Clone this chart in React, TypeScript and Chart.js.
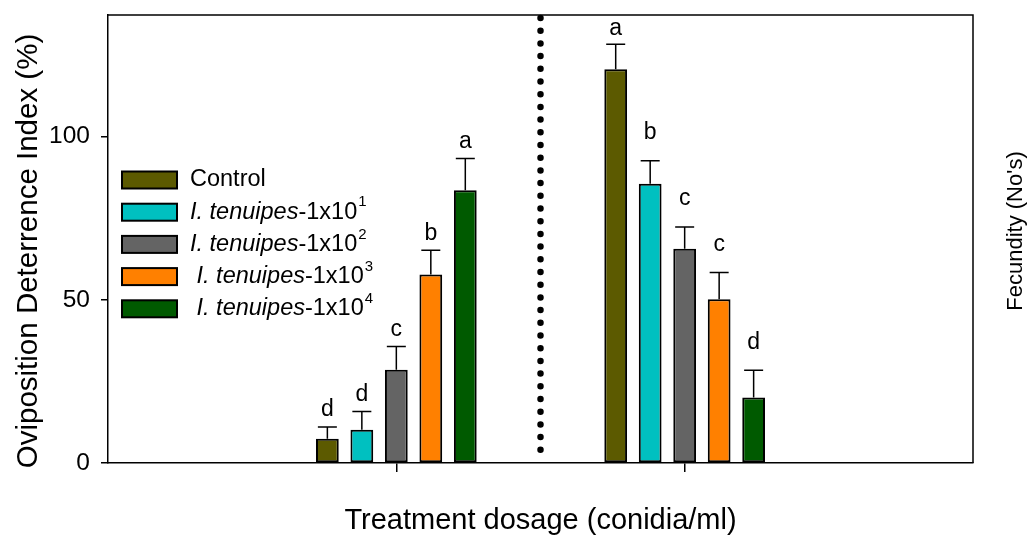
import React, { useEffect, useRef } from "react";
import { Chart, registerables } from "chart.js";

Chart.register(...registerables);

// ---------- data ----------
const categories = ["", "Group 1", "Group 2", ""];
const seriesLabels = [
  "Control",
  "I. tenuipes-1x10^1",
  "I. tenuipes-1x10^2",
  " I. tenuipes-1x10^3",
  " I. tenuipes-1x10^4",
];
const seriesColors = ["#5c5a00", "#00c0c0", "#646464", "#ff8000", "#005a00"];

const controlMeans = [7.4, 120.7];
const tenuipes1Means = [10.2, 85.6];
const tenuipes2Means = [28.6, 65.7];
const tenuipes3Means = [57.8, 50.2];
const tenuipes4Means = [83.6, 20.1];

const controlErr = [3.6, 7.6];
const tenuipes1Err = [5.6, 7.0];
const tenuipes2Err = [7.1, 6.6];
const tenuipes3Err = [7.4, 8.2];
const tenuipes4Err = [9.7, 8.3];

const controlLetters = ["d", "a"];
const tenuipes1Letters = ["d", "b"];
const tenuipes2Letters = ["c", "c"];
const tenuipes3Letters = ["b", "c"];
const tenuipes4Letters = ["a", "d"];

const yTickValues = [0, 50, 100];
const yMin = 0;
const yMax = 137.3;

const yTitle = "Oviposition Deterrence Index (%)";
const y2Title = "Fecundity (No's)";
const xTitle = "Treatment dosage (conidia/ml)";

const allMeans = [controlMeans, tenuipes1Means, tenuipes2Means, tenuipes3Means, tenuipes4Means];
const allErr = [controlErr, tenuipes1Err, tenuipes2Err, tenuipes3Err, tenuipes4Err];
const allLetters = [controlLetters, tenuipes1Letters, tenuipes2Letters, tenuipes3Letters, tenuipes4Letters];

const FONT = "Arial, 'Liberation Sans', sans-serif";

const overlayPlugin = {
  id: "overlay",
  afterDatasetsDraw(chart: any) {
    const { ctx, chartArea: ca, scales } = chart;
    const x = scales.x;
    const y = scales.y;
    ctx.save();

    // top and right frame
    ctx.strokeStyle = "#000";
    ctx.lineWidth = 1.5;
    ctx.beginPath();
    ctx.moveTo(ca.left, ca.top);
    ctx.lineTo(ca.right, ca.top);
    ctx.lineTo(ca.right, ca.bottom);
    ctx.stroke();

    // dotted separator between groups
    const sx = x.getPixelForValue(1.5);
    ctx.save();
    ctx.setLineDash([0, 12.7]);
    ctx.lineCap = "round";
    ctx.lineWidth = 6.5;
    ctx.beginPath();
    ctx.moveTo(sx, ca.top + 3);
    ctx.lineTo(sx, ca.bottom - 12);
    ctx.stroke();
    ctx.restore();

    // error bars and letters
    ctx.lineWidth = 1.5;
    ctx.fillStyle = "#000";
    ctx.font = `23px ${FONT}`;
    ctx.textAlign = "center";
    ctx.textBaseline = "middle";
    allMeans.forEach((means, i) => {
      const meta = chart.getDatasetMeta(i);
      means.forEach((m, g) => {
        const bar = meta.data[g + 1];
        if (!bar) return;
        const top = y.getPixelForValue(m + allErr[i][g]);
        const base = y.getPixelForValue(m);
        ctx.beginPath();
        ctx.moveTo(bar.x, base);
        ctx.lineTo(bar.x, top);
        ctx.moveTo(bar.x - 9.5, top);
        ctx.lineTo(bar.x + 9.5, top);
        ctx.stroke();
        const gap = g === 0 ? 17 : 28;
        const ly = Math.max(top - gap, ca.top + 14);
        ctx.fillText(allLetters[i][g], bar.x, ly);
      });
    });

    // legend
    const boxX = 122;
    const boxW = 55;
    const boxH = 17;
    const row0 = 180;
    const rowStep = 32.2;
    seriesLabels.forEach((label, i) => {
      const cy = row0 + i * rowStep;
      ctx.fillStyle = seriesColors[i];
      ctx.fillRect(boxX, cy - boxH / 2, boxW, boxH);
      ctx.strokeStyle = "#000";
      ctx.lineWidth = 2;
      ctx.strokeRect(boxX, cy - boxH / 2, boxW, boxH);
      ctx.fillStyle = "#000";
      ctx.textAlign = "left";
      ctx.textBaseline = "middle";
      let tx = 190;
      const mt = label.match(/^(\s*)(I\. tenuipes)(-1x10)\^(\d+)$/);
      ctx.font = `23.5px ${FONT}`;
      if (!mt) {
        ctx.fillText(label, tx, cy);
        return;
      }
      tx += ctx.measureText(mt[1]).width;
      ctx.font = `italic 23.5px ${FONT}`;
      ctx.fillText(mt[2], tx, cy);
      tx += ctx.measureText(mt[2]).width;
      ctx.font = `23.5px ${FONT}`;
      ctx.fillText(mt[3], tx, cy);
      tx += ctx.measureText(mt[3]).width + 1;
      ctx.font = `15px ${FONT}`;
      ctx.fillText(mt[4], tx, cy - 10);
    });

    // left axis title
    ctx.fillStyle = "#000";
    ctx.save();
    ctx.translate(28.5, 251);
    ctx.rotate(-Math.PI / 2);
    ctx.font = `29.5px ${FONT}`;
    ctx.textAlign = "center";
    ctx.textBaseline = "middle";
    ctx.fillText(yTitle, 0, 0);
    ctx.restore();

    // right axis title
    ctx.save();
    ctx.translate(1016, 231);
    ctx.rotate(-Math.PI / 2);
    ctx.font = `22px ${FONT}`;
    ctx.textAlign = "center";
    ctx.textBaseline = "middle";
    ctx.fillText(y2Title, 0, 0);
    ctx.restore();

    ctx.restore();
  },
};

export default function App() {
  const ref = useRef<HTMLCanvasElement | null>(null);

  useEffect(() => {
    if (!ref.current) return;
    const datasets = allMeans.map((means, i) => ({
      label: seriesLabels[i].trim(),
      data: [null, ...means, null],
      backgroundColor: seriesColors[i],
      borderColor: "#000",
      borderWidth: 2,
      borderSkipped: false as const,
      categoryPercentage: 0.598,
      barPercentage: 0.66,
    }));
    const chart = new Chart(ref.current, {
      type: "bar",
      data: { labels: categories, datasets: datasets as any },
      plugins: [overlayPlugin],
      options: {
        animation: false,
        responsive: false,
        maintainAspectRatio: false,
        layout: { padding: { top: 15, right: 54, left: 0, bottom: 0 } },
        plugins: {
          legend: { display: false },
          tooltip: { enabled: false },
        },
        scales: {
          x: {
            type: "category",
            offset: false,
            grid: {
              offset: false,
              drawOnChartArea: false,
              drawTicks: true,
              tickLength: 9,
              lineWidth: 1.5,
              color: (c: any) => (c.index === 1 || c.index === 2 ? "#000" : "rgba(0,0,0,0)"),
            },
            border: { display: true, color: "#000", width: 1.5 },
            ticks: { display: false },
            title: {
              display: true,
              text: xTitle,
              color: "#000",
              font: { family: FONT, size: 29 },
              padding: { top: 0, bottom: 0 },
            },
            afterFit: (s: any) => {
              s.height = 75;
              s.paddingLeft = 0;
              s.paddingRight = 0;
            },
          },
          y: {
            type: "linear",
            min: yMin,
            max: yMax,
            afterBuildTicks: (s: any) => {
              s.ticks = yTickValues.map((v) => ({ value: v }));
            },
            ticks: {
              color: "#000",
              font: { family: FONT, size: 24.5 },
              padding: 11,
            },
            grid: {
              drawOnChartArea: false,
              drawTicks: true,
              tickLength: 7,
              lineWidth: 1.5,
              color: "#000",
            },
            border: { display: true, color: "#000", width: 1.5 },
            title: { display: false },
            afterFit: (s: any) => {
              s.width = 108;
              s.paddingTop = 0;
              s.paddingBottom = 0;
            },
          },
        },
      },
    });
    return () => chart.destroy();
  }, []);

  return (
    <div style={{ position: "fixed", left: 0, top: 0, width: 1027, height: 538, background: "#fff" }}>
      <canvas ref={ref} width={1027} height={538} style={{ width: 1027, height: 538, display: "block" }} />
    </div>
  );
}
